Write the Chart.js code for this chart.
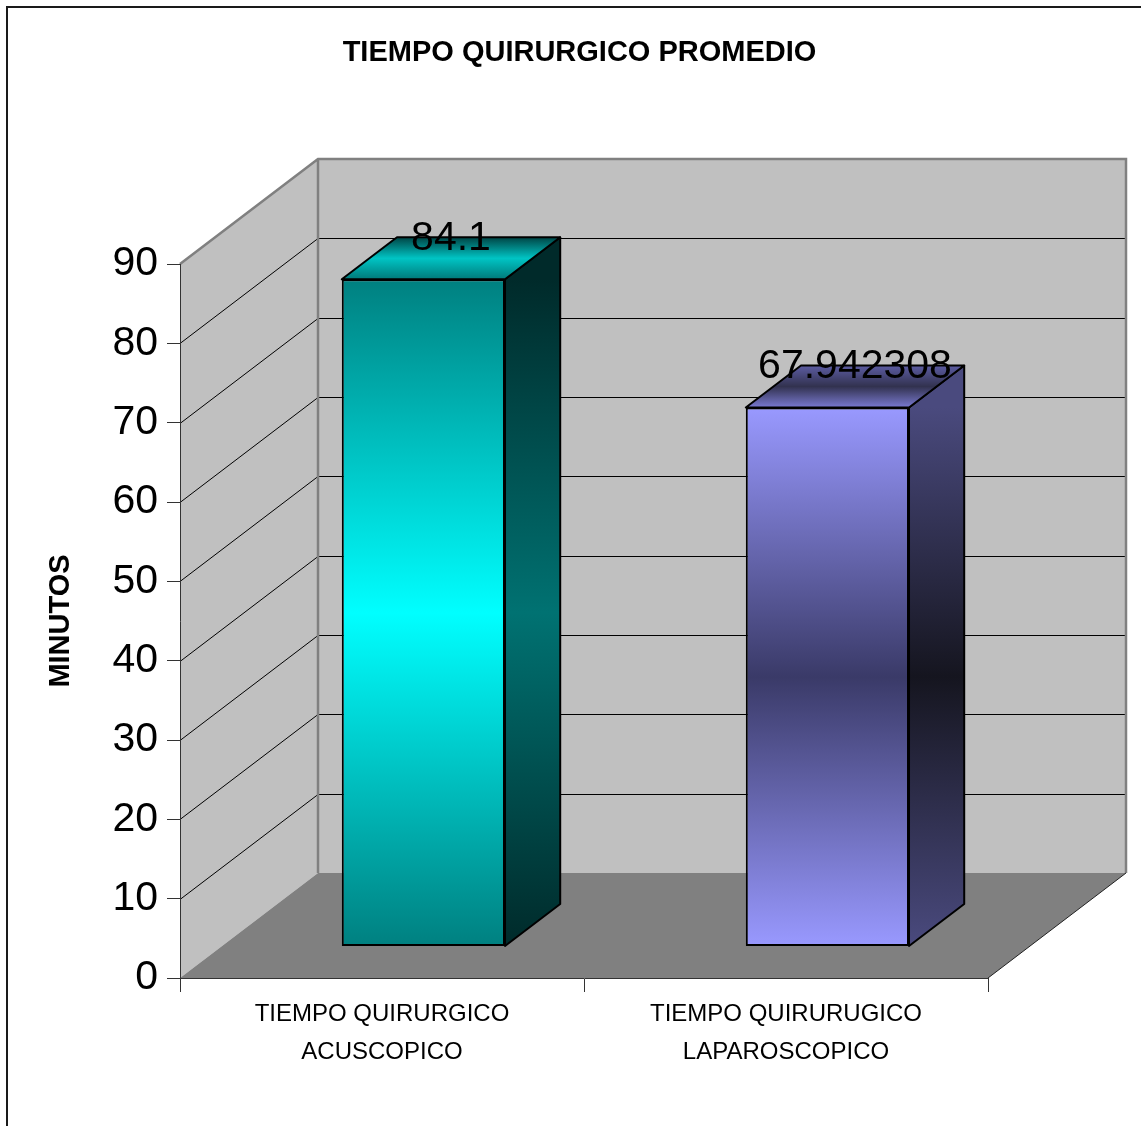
<!DOCTYPE html>
<html>
<head>
<meta charset="utf-8">
<script src="https://cdn.jsdelivr.net/npm/chart.js@4.4.0/dist/chart.umd.min.js"></script>
<style>
  body { margin: 0; background: #fff; }
  #wrap { width: 1141px; height: 1126px; }
</style>
</head>
<body>
<div id="wrap"><canvas id="chart"></canvas></div>
<script>
var categories = [['TIEMPO QUIRURGICO', 'ACUSCOPICO'], ['TIEMPO QUIRURUGICO', 'LAPAROSCOPICO']];
var values = [84.1, 67.942308];
var yMin = 0, yMax = 90, yStep = 10;

// colours of the three faces of each bar: top/edge, middle, bottom/edge
var frontColors = [['#008080', '#00ffff', '#008080'], ['#9999ff', '#3a3a68', '#9999ff']];
var sideColors = [['#002a2a', '#007272', '#002a2a'], ['#4a4a7e', '#15151f', '#4a4a7e']];
var topColors = [['#007a7a', '#00c4c4', '#004545'], ['#7a7ad2', '#32324f', '#5c5ca2']];

// depth of the 3d box, and where the bars sit inside it (fractions of the depth)
var DX = 138, DY = -105;
var BAR_POS = 0.3, BAR_DEPTH = 0.4;

Chart.defaults.font.family = '"Liberation Sans", Arial, sans-serif';
Chart.defaults.color = '#000';

function vGrad(ctx, y0, y1, stops) {
  var g = ctx.createLinearGradient(0, y0, 0, y1);
  g.addColorStop(0, stops[0]);
  g.addColorStop(0.5, stops[1]);
  g.addColorStop(1, stops[2]);
  return g;
}

function poly(ctx, pts) {
  ctx.beginPath();
  ctx.moveTo(pts[0][0], pts[0][1]);
  for (var i = 1; i < pts.length; i++) ctx.lineTo(pts[i][0], pts[i][1]);
  ctx.closePath();
}

var box3d = {
  id: 'box3d',
  beforeDraw: function(chart) {
    var ctx = chart.ctx, a = chart.chartArea, y = chart.scales.y;
    ctx.save();
    ctx.fillStyle = '#fff';
    ctx.fillRect(0, 0, chart.width, chart.height);
    ctx.strokeStyle = '#1a1a1a';
    ctx.lineWidth = 2;
    ctx.strokeRect(7, 7, chart.width + 20, chart.height + 20);

    // walls
    ctx.fillStyle = '#c0c0c0';
    poly(ctx, [[a.left, a.top], [a.left + DX, a.top + DY], [a.left + DX, a.bottom + DY], [a.left, a.bottom]]);
    ctx.fill();
    ctx.fillRect(a.left + DX, a.top + DY, a.right - a.left, a.bottom - a.top);
    // floor
    ctx.fillStyle = '#808080';
    poly(ctx, [[a.left, a.bottom], [a.right, a.bottom], [a.right + DX, a.bottom + DY], [a.left + DX, a.bottom + DY]]);
    ctx.fill();

    // gridlines on side and back wall
    ctx.strokeStyle = '#000';
    ctx.lineWidth = 1;
    y.ticks.forEach(function(t) {
      if (t.value <= yMin || t.value >= yMax) return;
      var p = Math.round(y.getPixelForValue(t.value)) + 0.5;
      ctx.beginPath();
      ctx.moveTo(a.left, p);
      ctx.lineTo(a.left + DX, p + DY);
      ctx.lineTo(a.right + DX, p + DY);
      ctx.stroke();
    });

    // wall edges
    ctx.strokeStyle = '#808080';
    ctx.lineWidth = 2.5;
    ctx.beginPath();
    ctx.moveTo(a.left, a.top);
    ctx.lineTo(a.left + DX, a.top + DY);
    ctx.lineTo(a.right + DX, a.top + DY);
    ctx.lineTo(a.right + DX, a.bottom + DY);
    ctx.moveTo(a.left + DX, a.top + DY);
    ctx.lineTo(a.left + DX, a.bottom + DY);
    ctx.stroke();
    ctx.strokeStyle = '#222';
    ctx.lineWidth = 1;
    ctx.beginPath();
    ctx.moveTo(a.right, a.bottom);
    ctx.lineTo(a.right + DX, a.bottom + DY);
    ctx.stroke();
    ctx.restore();
  },
  beforeDatasetsDraw: function(chart) {
    chart.ctx.save();
    chart.ctx.translate(DX * BAR_POS, DY * BAR_POS);
  },
  afterDatasetsDraw: function(chart) {
    var ctx = chart.ctx;
    ctx.restore();
    var meta = chart.getDatasetMeta(0);
    var ox = DX * BAR_POS, oy = DY * BAR_POS, bx = DX * BAR_DEPTH, by = DY * BAR_DEPTH;
    ctx.save();
    ctx.strokeStyle = '#000';
    ctx.lineWidth = 2;
    ctx.lineJoin = 'round';
    meta.data.forEach(function(bar, i) {
      var p = bar.getProps(['x', 'y', 'base', 'width'], true);
      var l = p.x - p.width / 2 + ox, r = p.x + p.width / 2 + ox;
      var t = p.y + oy, b = p.base + oy;
      poly(ctx, [[r, t], [r + bx, t + by], [r + bx, b + by], [r, b]]);
      ctx.fillStyle = vGrad(ctx, t, b, sideColors[i]);
      ctx.fill();
      ctx.stroke();
      poly(ctx, [[l, t], [r, t], [r + bx, t + by], [l + bx, t + by]]);
      ctx.fillStyle = vGrad(ctx, t, t + by, topColors[i]);
      ctx.fill();
      ctx.stroke();
    });
    // value labels
    ctx.fillStyle = '#000';
    ctx.font = '41px "Liberation Sans", Arial, sans-serif';
    ctx.textAlign = 'center';
    ctx.textBaseline = 'middle';
    meta.data.forEach(function(bar, i) {
      var p = bar.getProps(['x', 'y'], true);
      ctx.fillText(String(values[i]), p.x + ox + bx / 2, p.y + oy + by + 1);
    });
    ctx.restore();
  }
};

var ctx = document.getElementById('chart');
new Chart(ctx, {
  type: 'bar',
  data: {
    labels: categories,
    datasets: [{
      data: values,
      backgroundColor: function(c) {
        if (c.type !== 'data' || !c.chart.chartArea) return '#888';
        var y = c.chart.scales.y;
        return vGrad(c.chart.ctx, y.getPixelForValue(values[c.dataIndex]), y.getPixelForValue(0), frontColors[c.dataIndex]);
      },
      borderColor: '#000',
      borderWidth: 2,
      borderSkipped: false,
      categoryPercentage: 1,
      barPercentage: 0.404,
      clip: false
    }]
  },
  options: {
    responsive: true,
    maintainAspectRatio: false,
    animation: false,
    layout: { padding: { left: 18, right: 0, top: 0, bottom: 0 } },
    plugins: {
      legend: { display: false },
      tooltip: { enabled: false },
      title: {
        display: true,
        text: 'TIEMPO QUIRURGICO PROMEDIO',
        font: { size: 29, weight: 'bold' },
        color: '#000',
        padding: { top: 35.9, bottom: 193.3 }
      }
    },
    scales: {
      x: {
        grid: { display: true, drawOnChartArea: false, drawTicks: true, tickLength: 14, color: '#333', offset: true },
        border: { display: true, color: '#333' },
        ticks: { font: { size: 24, lineHeight: 1.583 }, padding: 3, maxRotation: 0, autoSkip: false, color: '#000' },
        afterFit: function(s) { s.height = 148; }
      },
      y: {
        min: yMin,
        max: yMax,
        ticks: { stepSize: yStep, font: { size: 41 }, padding: 9, color: '#000' },
        grid: { display: true, drawOnChartArea: false, drawTicks: true, tickLength: 13, color: '#333' },
        border: { display: true, color: '#333' },
        title: { display: true, text: 'MINUTOS', font: { size: 29, weight: 'bold' }, padding: { top: 25.6, bottom: 0 }, color: '#000' },
        afterFit: function(s) { s.width = 162; }
      },
      depth: {
        type: 'linear',
        position: 'right',
        grid: { display: false },
        border: { display: false },
        ticks: { display: false },
        afterFit: function(s) { s.width = 153; }
      }
    }
  },
  plugins: [box3d]
});
</script>
</body>
</html>
